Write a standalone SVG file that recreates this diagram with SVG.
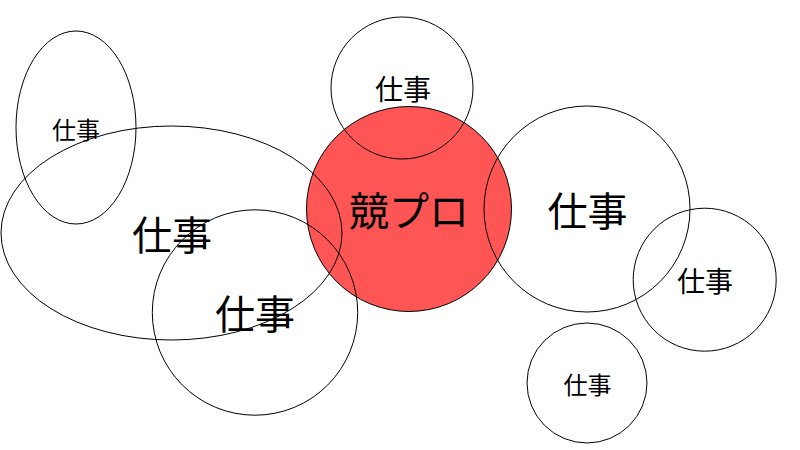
<svg xmlns="http://www.w3.org/2000/svg" width="800" height="450" viewBox="0 0 800 450">
<style>
.s{fill:none;stroke:#000;stroke-width:1}
.r{fill:#ff5555;stroke:#000;stroke-width:1}
text{font-family:"Noto Sans CJK JP","Noto Sans",sans-serif;text-anchor:middle;dominant-baseline:central;fill:#000}
.l{font-size:40px}
.m{font-size:28px}
.sm{font-size:24px}
</style>
<rect width="800" height="450" fill="#fff"/>
<g id="kyopro"><circle class="r" cx="409" cy="209" r="102.5"/><text class="l" x="409" y="209">競プロ</text></g>
<g id="job1"><ellipse class="s" cx="76" cy="127.5" rx="60" ry="96.5"/><text class="sm" x="76" y="128">仕事</text></g>
<g id="job2"><ellipse class="s" cx="171.5" cy="233" rx="170.5" ry="107"/><text class="l" x="172" y="233">仕事</text></g>
<g id="job3"><circle class="s" cx="255" cy="312.5" r="102.7"/><text class="l" x="255" y="312">仕事</text></g>
<g id="job4"><circle class="s" cx="402" cy="88" r="71"/><text class="m" x="403" y="88">仕事</text></g>
<g id="job5"><circle class="s" cx="587" cy="209" r="103"/><text class="l" x="587.5" y="208.5">仕事</text></g>
<g id="job6"><circle class="s" cx="704.7" cy="279.7" r="71.5"/><text class="m" x="705" y="280">仕事</text></g>
<g id="job7"><circle class="s" cx="587" cy="383" r="60"/><text class="sm" x="587.5" y="383">仕事</text></g>
<g id="connectors"></g>
</svg>
